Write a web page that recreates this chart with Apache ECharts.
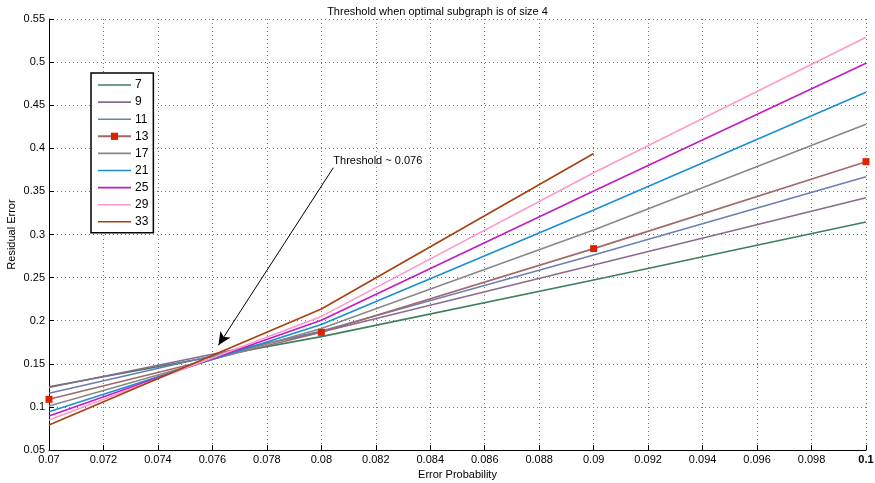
<!DOCTYPE html>
<html>
<head>
<meta charset="utf-8">
<script src="https://cdn.jsdelivr.net/npm/echarts@6/dist/echarts.min.js"></script>
<style>
  html, body { margin: 0; padding: 0; background: #fff; }
  #chart { width: 875px; height: 483px; }
</style>
</head>
<body>
<div id="chart"></div>
<script>
const xValues = [0.07, 0.08, 0.09, 0.1]
const seriesNames = ['7', '9', '11', '13', '17', '21', '25', '29', '33']
const seriesColors = ['#3d7f5c', '#8c6a8e', '#6a7fb5', '#a06a6a', '#888888', '#1b8fd1', '#c21bc2', '#ff99cc', '#a8400f']

const err7 = [0.1234, 0.1815, 0.2472, 0.3145]
const err9 = [0.1225, 0.1868, 0.2646, 0.3426]
const err11 = [0.1158, 0.1880, 0.2762, 0.3670]
const err13 = [0.1088, 0.1865, 0.2836, 0.3845]
const err17 = [0.1010, 0.1910, 0.3052, 0.4278]
const err21 = [0.0945, 0.1955, 0.3284, 0.4650]
const err25 = [0.0895, 0.2005, 0.3505, 0.4986]
const err29 = [0.0848, 0.2050, 0.3717, 0.5288]
const err33 = [0.0790, 0.2135, 0.3940]

const allErrors = [err7, err9, err11, err13, err17, err21, err25, err29, err33]

const yTicks = { min: 0.05, max: 0.55, interval: 0.05 }
const xTicks = { min: 0.07, max: 0.1, interval: 0.002 }

const chart = echarts.init(document.getElementById('chart'), null, { renderer: 'canvas' })

const font = 'Liberation Sans, Arial, sans-serif'
const lineIcon = 'path://M0,0 L33,0 L33,1.6 L0,1.6 Z'

const series = allErrors.map((vals, i) => {
  const marked = seriesNames[i] === '13'
  return {
    name: seriesNames[i],
    type: 'line',
    data: vals.map((v, j) => [xValues[j], v]),
    showSymbol: marked,
    symbol: marked ? 'rect' : 'none',
    symbolSize: 7,
    itemStyle: { color: marked ? '#dd2200' : seriesColors[i] },
    lineStyle: { color: seriesColors[i], width: 1.6 },
    emphasis: { disabled: true },
    z: 3,
  }
})

// annotation arrow + text
series.push({
  name: 'annotation',
  type: 'line',
  data: [],
  silent: true,
  markLine: {
    silent: true,
    symbol: ['none', 'arrow'],
    symbolSize: [9, 13],
    label: { show: false },
    lineStyle: { color: '#000', type: 'solid', width: 1 },
    data: [[
      { coord: [0.08044, 0.3775] },
      { coord: [0.07622, 0.1715] },
    ]],
  },
  markPoint: {
    symbol: 'circle',
    symbolSize: 0,
    label: {
      show: true,
      position: 'right',
      distance: 0,
      color: '#000',
      fontFamily: font,
      fontSize: 11,
      formatter: 'Threshold ~ 0.076',
    },
    data: [{ coord: [0.08044, 0.3853] }],
  },
})

chart.setOption({
  animation: false,
  backgroundColor: '#fff',
  title: {
    text: 'Threshold when optimal subgraph is of size 4',
    left: 'center',
    top: 1,
    textStyle: { fontFamily: font, fontSize: 11, fontWeight: 'normal', color: '#000' },
  },
  legend: {
    data: seriesNames.map(n => (n === '13' ? { name: n } : { name: n, icon: lineIcon })),
    orient: 'vertical',
    left: 91,
    top: 73,
    width: 61,
    padding: [6, 5, 5, 6],
    itemGap: 5.1,
    itemWidth: 33,
    itemHeight: 9,
    borderColor: '#000',
    borderWidth: 1.5,
    backgroundColor: '#fff',
    textStyle: { fontFamily: font, fontSize: 12, color: '#000', padding: [0, 0, 0, -1] },
    selectedMode: false,
  },
  grid: { left: 49, right: 9, top: 19, bottom: 33, show: false, outerBoundsMode: 'none', containLabel: false },
  xAxis: {
    type: 'value',
    min: xTicks.min,
    max: xTicks.max,
    interval: xTicks.interval,
    name: 'Error Probability',
    nameLocation: 'middle',
    nameGap: 18,
    nameTextStyle: { fontFamily: font, fontSize: 11, color: '#000' },
    axisLine: { show: true, onZero: false, lineStyle: { color: '#000', width: 1 } },
    axisTick: { show: true, inside: true, length: 5, lineStyle: { color: '#000' } },
    axisLabel: {
      fontFamily: font,
      fontSize: 11,
      color: '#000',
      margin: 4,
      formatter: v => {
        const s = String(+v.toFixed(3))
        return Math.abs(v - 0.1) < 1e-9 ? '{b|' + s + '}' : s
      },
      rich: { b: { fontWeight: 'bold', fontFamily: font, fontSize: 11, color: '#000' } },
    },
    splitLine: { show: true, lineStyle: { color: '#777', type: [1, 3], width: 1 } },
  },
  yAxis: {
    type: 'value',
    min: yTicks.min,
    max: yTicks.max,
    interval: yTicks.interval,
    name: 'Residual Error',
    nameLocation: 'middle',
    nameGap: 32,
    nameMoveOverlap: false,
    nameTextStyle: { fontFamily: font, fontSize: 11, color: '#000' },
    axisLine: { show: true, onZero: false, lineStyle: { color: '#000', width: 1 } },
    axisTick: { show: true, inside: true, length: 5, lineStyle: { color: '#000' } },
    axisLabel: {
      fontFamily: font,
      fontSize: 11,
      color: '#000',
      margin: 4,
      formatter: v => String(+v.toFixed(2)),
    },
    splitLine: { show: true, lineStyle: { color: '#777', type: [1, 3], width: 1 } },
  },
  series,
})
</script>
</body>
</html>
